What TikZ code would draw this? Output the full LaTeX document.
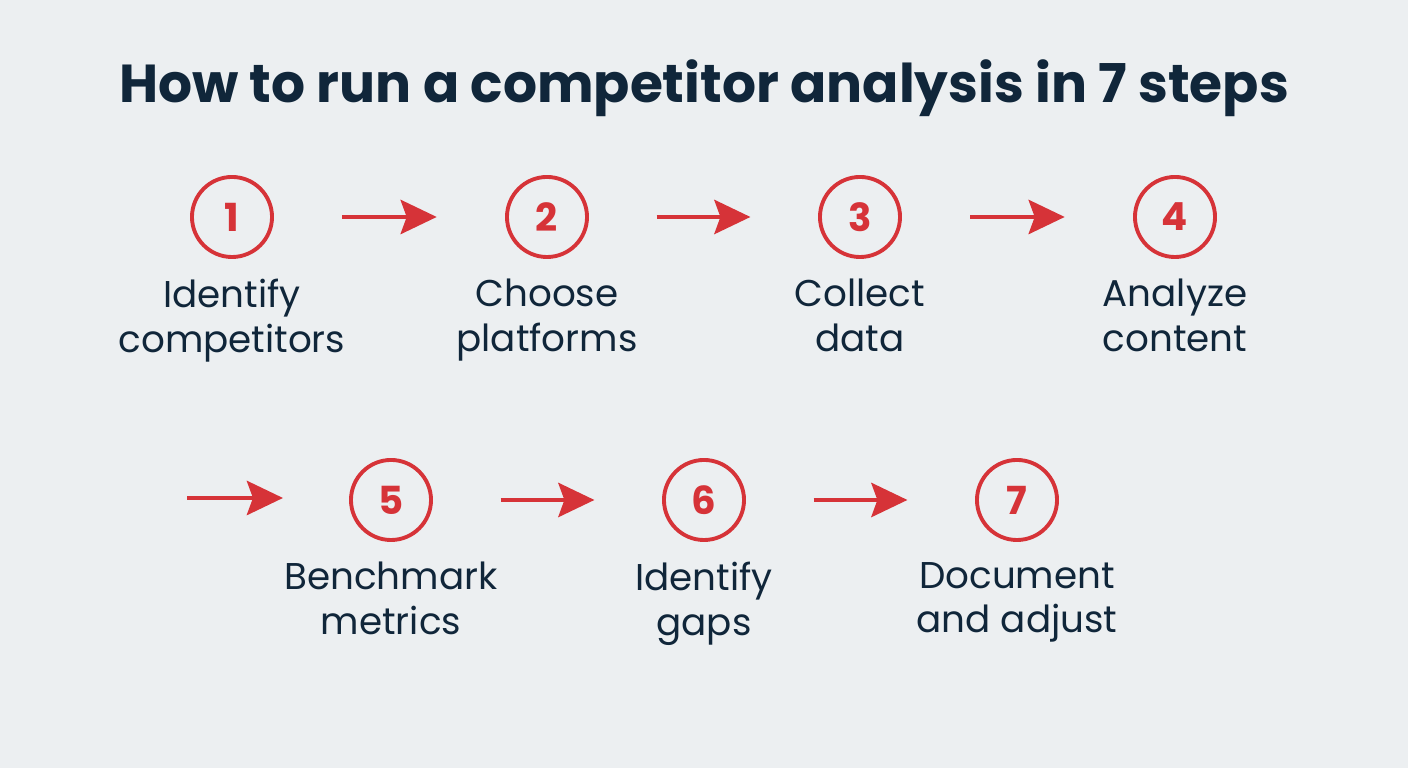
\documentclass[tikz,border=0pt]{standalone}
\usepackage{fontspec}
\setmainfont{Poppins}
\usetikzlibrary{arrows.meta, calc, positioning}
\definecolor{bgcol}{HTML}{ECEFF1}
\definecolor{stepred}{HTML}{D63338}
\definecolor{inkcol}{HTML}{10263A}
\begin{document}
\begin{tikzpicture}[x=0.01cm, y=-0.01cm,
  stepnum/.style={circle, draw=stepred, line width=1.1pt, minimum size=0.8cm,
    inner sep=0pt, text=stepred, font=\fontsize{11}{11}\selectfont\bfseries},
  caption/.style={align=center, text=inkcol, font=\fontsize{10.6}{12.6}\selectfont},
  flow/.style={-{Stealth[length=0.36cm, width=0.34cm, inset=0.06cm]}, draw=stepred, line width=1.4pt}]

  \fill[bgcol] (0, 0) rectangle (1408, 768);
  \node[text=inkcol, font=\fontsize{15.2}{15.2}\selectfont\bfseries] (title) at (704, 88)
    {How to run a competitor analysis in 7 steps};

  % steps
  \foreach \n/\x/\y/\txt in {1/232/217/{Identify\\competitors}, 2/547/217/{Choose\\platforms},
      3/860/217/{Collect\\data}, 4/1175/217/{Analyze\\content}, 5/391/500/{Benchmark\\metrics},
      6/704/500/{Identify\\gaps}, 7/1017/500/{Document\\and adjust}} {
    \node[stepnum] (s\n) at (\x, \y) {\n};
    \node[caption, below=0.08cm of s\n] (c\n) {\txt};
  }

  % arrows
  \coordinate (a0) at (187, 498);
  \coordinate (b0) at (283, 498);
  \draw[flow] (a0) -- (b0);
  \foreach \i/\j in {1/2, 2/3, 3/4, 5/6, 6/7} {
    \draw[flow] ($(s\i)!0.35!(s\j)$) -- ($(s\i)!0.65!(s\j)$);
  }

\end{tikzpicture}
\end{document}
